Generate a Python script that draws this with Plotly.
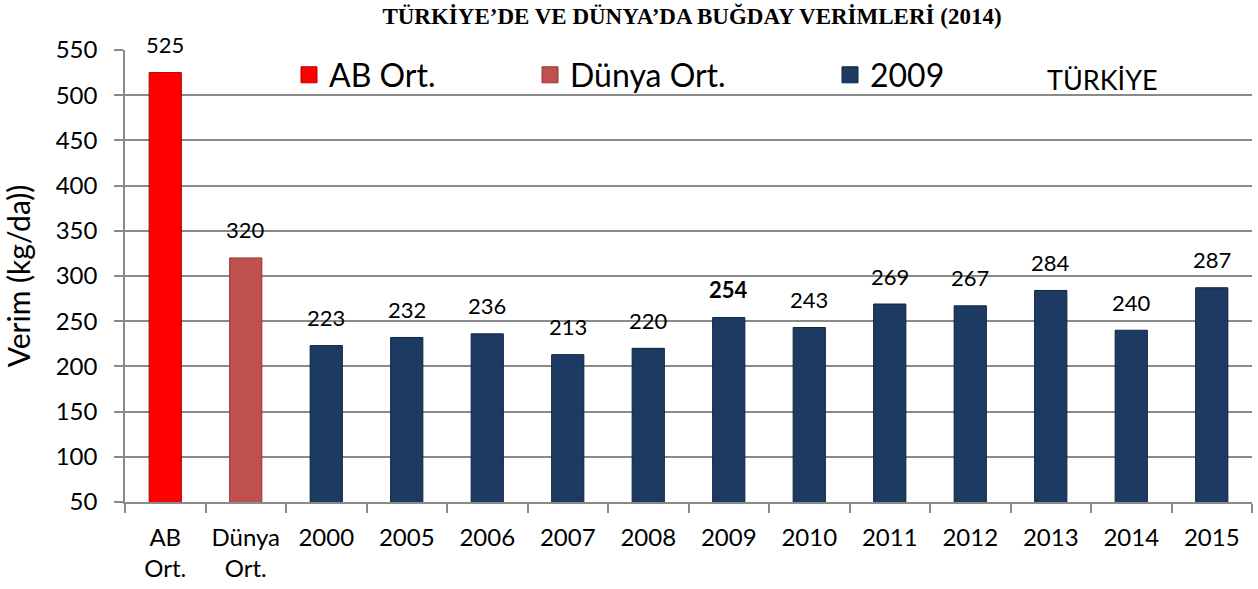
import plotly.graph_objects as go

# ---- data ----
categories = ["AB<br>Ort.", "Dünya<br>Ort.", "2000", "2005", "2006", "2007", "2008",
              "2009", "2010", "2011", "2012", "2013", "2014", "2015"]
ab_cats = ["AB<br>Ort."]
ab_vals = [525]
world_cats = ["Dünya<br>Ort."]
world_vals = [320]
tr_cats = ["2000", "2005", "2006", "2007", "2008", "2009", "2010", "2011",
           "2012", "2013", "2014", "2015"]
tr_vals = [223, 232, 236, 213, 220, 254, 243, 269, 267, 284, 240, 287]
y_ticks = [50, 100, 150, 200, 250, 300, 350, 400, 450, 500, 550]
highlight_cat = "2009"

FONT = "Lato"
RED = "#FF0000"
WORLD = "#C0504D"
NAVY = "#1C3A62"
GRID = "#8A8A8A"

fig = go.Figure()
for cats, vals, col, edge in [(ab_cats, ab_vals, RED, "#B00000"),
                              (world_cats, world_vals, WORLD, "#8E3A38"),
                              (tr_cats, tr_vals, NAVY, "#0F2340")]:
    fig.add_trace(go.Bar(x=cats, y=vals, width=0.4, showlegend=False,
                         marker=dict(color=col, line=dict(color=edge, width=1))))

# legend entries
legend_items = [("AB Ort.", RED, "#B00000", "legend"),
                ("Dünya Ort.", WORLD, "#8E3A38", "legend2"),
                ("2009", NAVY, "#0F2340", "legend3")]
for name, col, edge, lg in legend_items:
    fig.add_trace(go.Scatter(x=[None], y=[None], mode="markers", name=name, legend=lg,
                             marker=dict(symbol="square", size=16, color=col,
                                         line=dict(color=edge, width=1))))

# data labels (placed by category index on the category axis)
all_cats = ab_cats + world_cats + tr_cats
all_vals = ab_vals + world_vals + tr_vals
for c, v in zip(all_cats, all_vals):
    txt = f"<b>{v}</b>" if c == highlight_cat else str(v)
    fig.add_annotation(x=categories.index(c), y=v, text=txt, showarrow=False, yshift=28,
                       yanchor="middle", font=dict(family=FONT, size=22, color="#000"))

L, R, T, B = 125, 6, 50, 87
W, H = 1258, 589
pw = W - L - R
ph = H - T - B

def px_x(p):
    return (p - L) / pw

def px_y(p):
    return (H - B - p) / ph

# white box breaking the top gridline
fig.add_shape(type="rect", xref="paper", yref="paper",
              x0=px_x(1025), x1=px_x(1203), y0=px_y(58), y1=px_y(42),
              fillcolor="white", line=dict(width=0), layer="above")
fig.add_annotation(xref="paper", yref="paper", x=px_x(1045), y=px_y(79),
                   xanchor="left", yanchor="middle", text="TÜRKİYE", showarrow=False,
                   font=dict(family=FONT, size=27, color="#000"))

leg_common = dict(orientation="h", yanchor="middle", y=px_y(75), xanchor="left",
                  bgcolor="rgba(0,0,0,0)", font=dict(family=FONT, size=32, color="#000"),
                  itemwidth=30)

fig.update_layout(
    width=W, height=H,
    margin=dict(l=L, r=R, t=T, b=B),
    paper_bgcolor="white", plot_bgcolor="white",
    barmode="overlay",
    title=dict(text="<b>TÜRKİYE’DE VE DÜNYA’DA BUĞDAY VERİMLERİ (2014)</b>",
               x=px_x(692), xanchor="center", y=1 - 16 / H, yanchor="middle",
               xref="paper",
               font=dict(family="Liberation Serif", size=23, color="#000")),
    legend=dict(x=px_x(289), **leg_common),
    legend2=dict(x=px_x(530), **leg_common),
    legend3=dict(x=px_x(830), **leg_common),
    xaxis=dict(type="category", categoryorder="array", categoryarray=categories,
               range=[-0.5, len(categories) - 0.5],
               showline=True, linecolor=GRID, linewidth=1.5,
               ticks="outside", tickson="boundaries", ticklen=9, tickcolor=GRID,
               tickwidth=1.5, showgrid=False, tickangle=0,
               tickfont=dict(family=FONT, size=24, color="#000"),
               ticklabelstandoff=13),
    yaxis=dict(range=[50, 550], tickvals=y_ticks,
               showline=True, linecolor=GRID, linewidth=1.5,
               ticks="outside", ticklen=9, tickcolor=GRID, tickwidth=1.5,
               showgrid=True, gridcolor=GRID, gridwidth=1.5, zeroline=False,
               tickfont=dict(family=FONT, size=24, color="#000"),
               ticklabelstandoff=12,
               title=dict(text="Verim (kg/da))", standoff=18,
                          font=dict(family=FONT, size=30, color="#000"))),
)

fig.write_html("out.html")
